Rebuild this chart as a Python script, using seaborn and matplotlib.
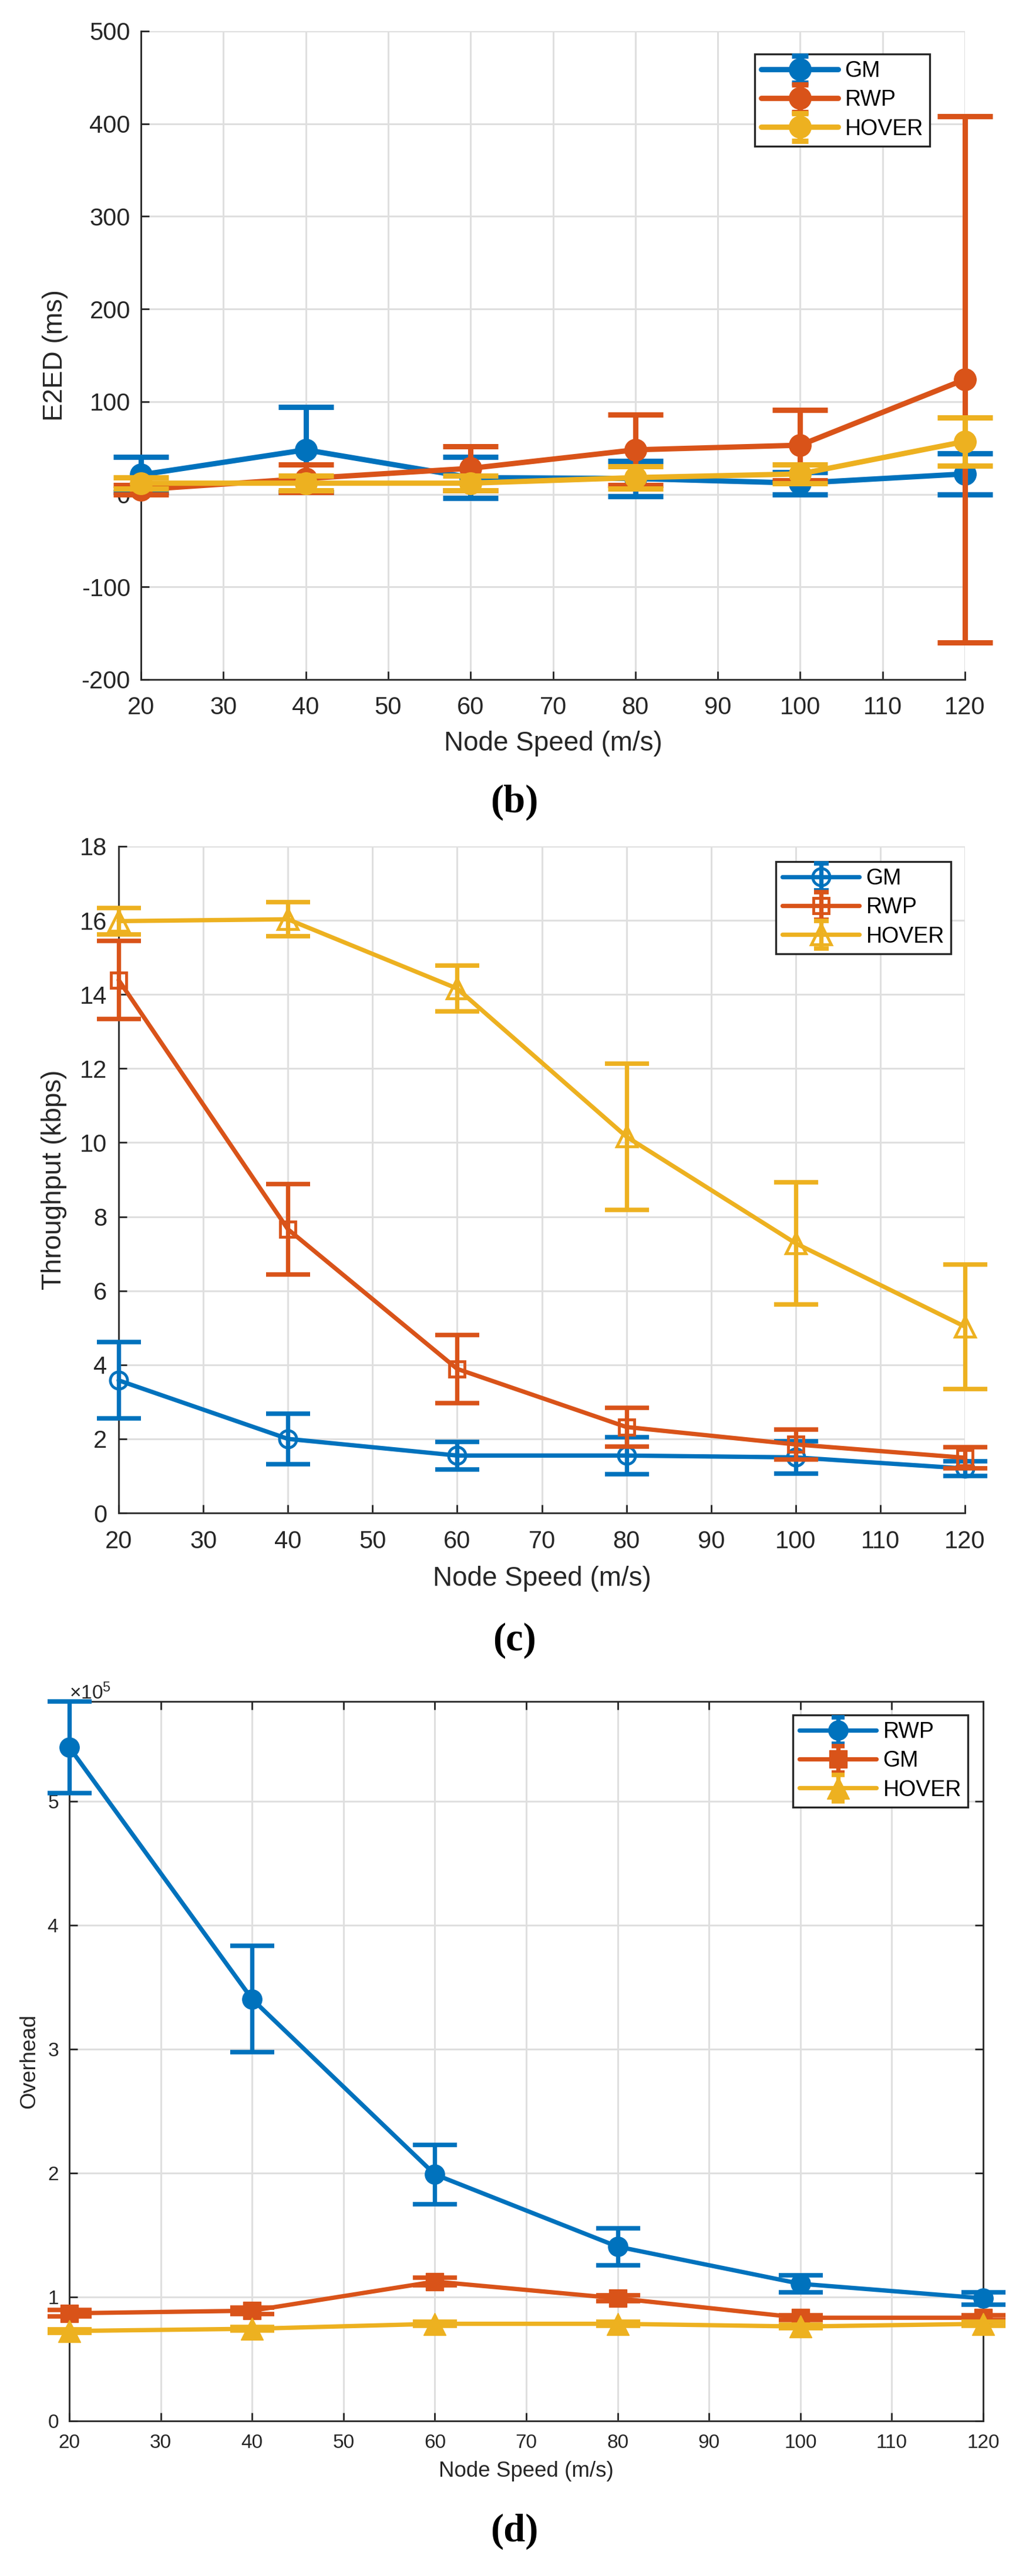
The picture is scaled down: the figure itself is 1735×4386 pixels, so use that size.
import matplotlib
matplotlib.use('Agg')
import matplotlib.pyplot as plt
import seaborn as sns
from matplotlib.container import ErrorbarContainer
from matplotlib.legend_handler import HandlerErrorbar
from matplotlib.lines import Line2D

# ---- data ----
speed = [20, 40, 60, 80, 100, 120]

# (b) end-to-end delay, ms
gm_e2ed = [21, 48, 18, 17, 12, 22]
gm_e2ed_err = [19, 46, 22, 19, 12, 22]
rwp_e2ed = [5, 17, 28, 48, 53, 124]
rwp_e2ed_err = [5, 15, 24, 38, 38, 284]
hover_e2ed = [12, 12, 12, 18, 22, 57]
hover_e2ed_err = [6, 8, 8, 12, 10, 26]

# (c) throughput, kbps
gm_thr = [3.58, 2.00, 1.55, 1.55, 1.50, 1.20]
gm_thr_err = [1.03, 0.68, 0.37, 0.50, 0.44, 0.20]
rwp_thr = [14.39, 7.66, 3.89, 2.32, 1.85, 1.49]
rwp_thr_err = [1.05, 1.22, 0.92, 0.52, 0.40, 0.28]
hover_thr = [15.98, 16.03, 14.16, 10.16, 7.28, 5.03]
hover_thr_err = [0.36, 0.46, 0.62, 1.98, 1.65, 1.68]

# (d) overhead
rwp_ovh = [543700, 340500, 199000, 140700, 110700, 99000]
rwp_ovh_err = [37000, 43000, 24000, 15000, 7000, 5000]
gm_ovh = [86900, 89000, 112500, 99000, 83300, 83300]
gm_ovh_err = [2500, 2500, 3000, 2500, 2000, 2000]
hover_ovh = [72600, 74400, 78400, 78400, 76200, 78400]
hover_ovh_err = [1500, 1500, 1500, 1500, 1500, 1500]

BLUE, ORANGE, YELLOW = '#0072BD', '#D95319', '#EDB120'
INK = '#262626'
W, H = 1735, 4386

sns.set_theme(style='whitegrid', rc={
    'grid.color': '#dfdfdf', 'grid.linewidth': 2.2,
    'axes.edgecolor': INK, 'axes.linewidth': 2.0,
    'axes.labelcolor': INK, 'xtick.color': INK, 'ytick.color': INK,
    'text.color': INK,
})
plt.rcParams['font.family'] = ['Liberation Sans', 'DejaVu Sans']
plt.rcParams['axes.unicode_minus'] = False
plt.rcParams['mathtext.fontset'] = 'custom'
plt.rcParams['mathtext.rm'] = 'Liberation Sans'
plt.rcParams['mathtext.it'] = 'Liberation Sans:italic'
plt.rcParams['mathtext.bf'] = 'Liberation Sans:bold'

fig = plt.figure(figsize=(W / 100, H / 100), dpi=100)


class SlimCapHandler(HandlerErrorbar):
    """Errorbar legend entry with narrower caps, like MATLAB's legend."""

    def __init__(self, cap_ms, **kw):
        super().__init__(**kw)
        self.cap_ms = cap_ms

    def create_artists(self, *args, **kwargs):
        artists = super().create_artists(*args, **kwargs)
        for a in artists:
            if isinstance(a, Line2D) and a.get_marker() == '_':
                a.set_markersize(self.cap_ms)
        return artists


def px_axes(left, top, right, bottom):
    return fig.add_axes([left / W, 1 - bottom / H, (right - left) / W, (bottom - top) / H])


def draw_series(ax, series, lw, capsize, capthick, hollow=False):
    handles = []
    for i, (name, y, err, color, marker, ms, mew) in enumerate(series):
        eb = ax.errorbar(speed, y, yerr=err, fmt='none', ecolor=color, elinewidth=lw,
                         capsize=capsize, capthick=capthick, zorder=3 + 2 * i)
        for art in eb.lines[1] + eb.lines[2]:
            art.set_clip_on(False)
        sns.lineplot(x=speed, y=y, ax=ax, color=color, marker=marker, markersize=ms,
                     mec=color, mew=mew, mfc='none' if hollow else color,
                     linewidth=lw, errorbar=None, legend=False, zorder=4 + 2 * i)
        ax.lines[-1].set_clip_on(False)
        handles.append(((eb, ax.lines[-1]), name))
    return handles


def style_axes(ax, tick_fs, label_fs, box, xpad, ypad):
    ax.set_xlim(20, 120)
    ax.set_xticks(range(20, 121, 10))
    ax.tick_params(direction='in', length=10, width=2.0, labelsize=tick_fs,
                   top=box, right=box, bottom=True, left=True)
    ax.tick_params(axis='x', pad=xpad)
    ax.tick_params(axis='y', pad=ypad)
    for side in ('top', 'right'):
        ax.spines[side].set_visible(box)
    ax.set_axisbelow(True)
    ax.xaxis.label.set_size(label_fs)
    ax.yaxis.label.set_size(label_fs)


def add_legend(ax, handles, right, top, yerr, cap_ms):
    leg = ax.legend([h for h, _ in handles], [n for _, n in handles],
                    loc='upper right', bbox_to_anchor=(right / W, 1 - top / H),
                    bbox_transform=fig.transFigure, borderaxespad=0,
                    fontsize=27, handlelength=3.5, handletextpad=0.3,
                    labelspacing=0.35, borderpad=0.3, fancybox=False,
                    framealpha=1, edgecolor=INK,
                    handler_map={ErrorbarContainer: SlimCapHandler(cap_ms, xerr_size=0.5,
                                                                   yerr_size=yerr)})
    leg.get_frame().set_linewidth(2.4)
    leg.set_zorder(20)
    for t in leg.get_texts():
        t.set_color('black')
    return leg


# ---- (b) E2ED ----
ax_b = px_axes(240, 53, 1643, 1157)
h_b = draw_series(ax_b, [('GM', gm_e2ed, gm_e2ed_err, BLUE, 'o', 27, 1),
                         ('RWP', rwp_e2ed, rwp_e2ed_err, ORANGE, 'o', 27, 1),
                         ('HOVER', hover_e2ed, hover_e2ed_err, YELLOW, 'o', 27, 1)],
                  lw=6.5, capsize=34, capthick=6.5)
ax_b.set_ylim(-200, 500)
ax_b.set_yticks(range(-200, 501, 100))
ax_b.set_xlabel('Node Speed (m/s)', va='center')
ax_b.set_ylabel('E2ED (ms)', va='center')
style_axes(ax_b, 30, 33, False, 20, 13)
ax_b.xaxis.set_label_coords(0.5, -0.0987)
ax_b.yaxis.set_label_coords(-0.104, 0.5)
add_legend(ax_b, h_b, 1583, 92, 0.62, 20)

# ---- (c) throughput ----
ax_c = px_axes(202, 1441, 1643, 2576)
h_c = draw_series(ax_c, [('GM', gm_thr, gm_thr_err, BLUE, 'o', 21, 3.5),
                         ('RWP', rwp_thr, rwp_thr_err, ORANGE, 's', 19, 3.5),
                         ('HOVER', hover_thr, hover_thr_err, YELLOW, '^', 24, 3.5)],
                  lw=5.3, capsize=27, capthick=5.5, hollow=True)
ax_c.set_ylim(0, 18)
ax_c.set_yticks(range(0, 19, 2))
ax_c.set_xlabel('Node Speed (m/s)', va='center')
ax_c.set_ylabel('Throughput (kbps)', va='center')
style_axes(ax_c, 30, 33, False, 21, 14)
ax_c.xaxis.set_label_coords(0.5, -0.0985)
ax_c.yaxis.set_label_coords(-0.0763, 0.5)
add_legend(ax_c, h_c, 1619, 1467, 0.62, 18)

# ---- (d) overhead ----
ax_d = px_axes(118, 2897, 1674, 4122)
h_d = draw_series(ax_d, [('RWP', rwp_ovh, rwp_ovh_err, BLUE, 'o', 24, 1),
                         ('GM', gm_ovh, gm_ovh_err, ORANGE, 's', 21, 1),
                         ('HOVER', hover_ovh, hover_ovh_err, YELLOW, '^', 27, 1)],
                  lw=5.3, capsize=27, capthick=5.5)
ax_d.set_ylim(0, 5.807e5)
ax_d.set_yticks([0, 1e5, 2e5, 3e5, 4e5, 5e5])
ax_d.ticklabel_format(axis='y', style='sci', scilimits=(5, 5), useMathText=True)
ax_d.set_xlabel('Node Speed (m/s)', va='center')
ax_d.set_ylabel('Overhead', va='center')
style_axes(ax_d, 24, 26.5, True, 16, 13)
ax_d.yaxis.get_offset_text().set_fontsize(24)
ax_d.xaxis.set_label_coords(0.5, -0.07)
ax_d.yaxis.set_label_coords(-0.0437, 0.5)
add_legend(ax_d, h_d, 1648, 2920, 0.6, 16)

# ---- panel letters ----
for letter, ypix in (('b', 1366), ('c', 2793), ('d', 4310)):
    fig.text(876 / W, 1 - ypix / H, f'({letter})', ha='center', va='center',
             fontsize=48, family='Liberation Serif', fontweight='bold', color='black')

fig.savefig('out.png', dpi=100, facecolor='white')
